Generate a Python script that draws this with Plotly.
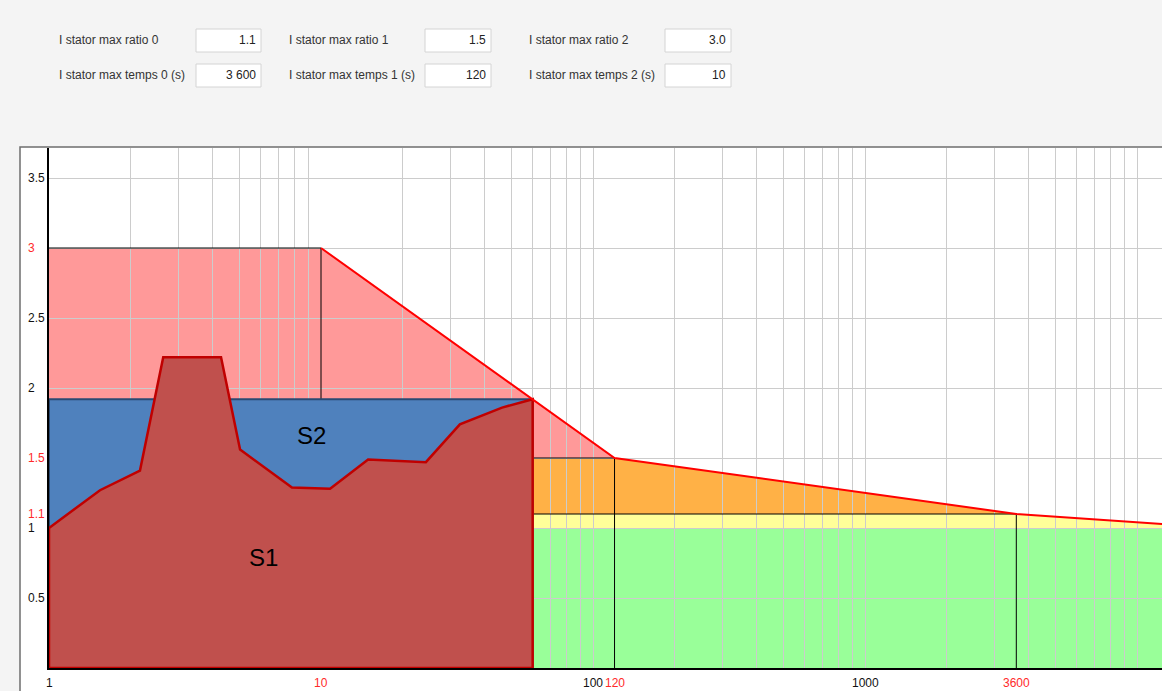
import numpy as np
import plotly.graph_objects as go

# Protection thresholds (current ratio and allowed duration)
ratio_labels = ["I stator max ratio 0", "I stator max ratio 1", "I stator max ratio 2"]
temps_labels = ["I stator max temps 0 (s)", "I stator max temps 1 (s)", "I stator max temps 2 (s)"]
ratios = [1.1, 1.5, 3.0]
temps = [3600, 120, 10]

# Trip envelope: time (s) vs current ratio
env_t = [10, 120, 3600, 20000]
env_i = [3.0, 1.5, 1.1, 1.0]

# Permanent (nominal) ratio
nominal_ratio = 1.0

# Load profile S1 and envelope box S2
s1_t = [1, 1.54, 2.16, 2.63, 4.29, 5.04, 7.82, 10.8, 14.9, 24.3, 32.4, 46.3, 60]
s1_i = [1.0, 1.27, 1.41, 2.22, 2.22, 1.56, 1.29, 1.28, 1.49, 1.47, 1.74, 1.86, 1.92]
s2_t_end = 60
s2_i = 1.92

# Axis labels
xtick_vals = [1, 10, 100, 120, 1000, 3600]
ytick_vals = [0.5, 1, 1.1, 1.5, 2, 2.5, 3, 3.5]

zone_colors = ["#FFFF99", "#FFB146", "#FF9999"]
nominal_color = "#99FF99"

W, H = 1162, 691
L, R, T, B = 49, 0, 148, 23
PW, PH = W - L - R, H - T - B


def px(x):
    return (x - L) / PW


def py(y):
    return (H - B - y) / PH


def path_of(points, close=True):
    s = "M " + " L ".join(f"{x},{y}" for x, y in points)
    return s + (" Z" if close else "")


fig = go.Figure()
shapes = []
annotations = []

# white chart panel on the grey page
shapes.append(dict(type="rect", xref="paper", yref="paper", layer="below",
                   x0=px(20), x1=px(1175), y0=py(147), y1=py(700),
                   fillcolor="white", line=dict(color="#6e6e6e", width=1.5)))

t_end = env_t[-1]

# threshold zones: highest ratio first, lower zones painted over it
order = sorted(range(len(ratios)), key=lambda k: ratios[k], reverse=True)
for k in order:
    r, t0 = ratios[k], temps[k]
    nxt = [tt for tt in temps if tt > t0]
    t1 = min(nxt) if nxt else t_end
    env_pts = [(t, i) for t, i in zip(env_t, env_i) if t0 <= t <= t1]
    pts = [(1, 0), (1, r), (t0, r)] + env_pts + [(t1, 0)]
    shapes.append(dict(type="path", xref="x", yref="y", layer="below",
                       path=path_of(pts), fillcolor=zone_colors[k], line=dict(width=0)))

# nominal band on top of the zones
shapes.append(dict(type="path", xref="x", yref="y", layer="below",
                   path=path_of([(1, 0), (1, nominal_ratio), (t_end, nominal_ratio), (t_end, 0)]),
                   fillcolor=nominal_color, line=dict(width=0)))

# zone borders
for r, t0 in zip(ratios, temps):
    shapes.append(dict(type="path", xref="x", yref="y", layer="between",
                       path=path_of([(1, r), (t0, r), (t0, 0)], close=False),
                       line=dict(color="black", width=1)))

# S2 box
fig.add_trace(go.Scatter(
    x=[1, 1, s2_t_end, s2_t_end, 1], y=[0, s2_i, s2_i, 0, 0],
    mode="lines", fill="toself", fillcolor="#4F81BD",
    line=dict(color="#2A4A73", width=2), hoverinfo="skip", showlegend=False))

# S1 profile
fig.add_trace(go.Scatter(
    x=[1] + s1_t + [s1_t[-1], 1], y=[0] + s1_i + [0, 0],
    mode="lines", fill="toself", fillcolor="#C0504D",
    line=dict(color="#C00000", width=2.5), hoverinfo="skip", showlegend=False))

# trip envelope
fig.add_trace(go.Scatter(
    x=env_t, y=env_i, mode="lines",
    line=dict(color="#FF0000", width=2), hoverinfo="skip", showlegend=False))

# region labels
annotations.append(dict(x=np.log10(6.12), y=0.79, xref="x", yref="y", text="S1",
                        showarrow=False, font=dict(size=24, color="black")))
annotations.append(dict(x=np.log10(9.19), y=1.66, xref="x", yref="y", text="S2",
                        showarrow=False, font=dict(size=24, color="black")))

RED = "#FF2A2A"

# y tick labels (left aligned)
for v in ytick_vals:
    annotations.append(dict(x=px(26), y=v, xref="paper", yref="y", text=f"{v:g}",
                            xanchor="left", yanchor="middle", showarrow=False,
                            font=dict(size=12, color=RED if v in ratios else "#111111")))

# x tick labels
for v in xtick_vals:
    annotations.append(dict(x=np.log10(v), y=0, xref="x", yref="paper", text=str(v),
                            xanchor="center", yanchor="top", yshift=-6, showarrow=False,
                            font=dict(size=12, color=RED if v in temps else "#111111")))

# parameter fields
col_label_x = [57, 287, 527]
col_box_x = [(196, 261), (425, 491), (665, 731)]
rows = [(40, 29, 52, ratio_labels, [f"{r:.1f}" for r in ratios]),
        (75, 64, 87, temps_labels, [f"{t:,}".replace(",", " ") for t in temps])]
for yc, yb0, yb1, labels, values in rows:
    for c in range(3):
        annotations.append(dict(x=px(col_label_x[c]), y=py(yc), xref="paper", yref="paper",
                                text=labels[c], xanchor="left", yanchor="middle", showarrow=False,
                                font=dict(size=12, color="#333333")))
        bx0, bx1 = col_box_x[c]
        shapes.append(dict(type="rect", xref="paper", yref="paper", layer="above",
                           x0=px(bx0), x1=px(bx1), y0=py(yb1), y1=py(yb0),
                           fillcolor="white", line=dict(color="#d4d4d4", width=1)))
        annotations.append(dict(x=px(bx1 - 3), y=py(yc), xref="paper", yref="paper",
                                text=values[c], xanchor="right", yanchor="middle", showarrow=False,
                                font=dict(size=12, color="#222222")))

# vertical grid at every digit of each decade (threshold times excluded)
grid_x = [d * 10 ** k for k in range(0, 5) for d in range(1, 10)]
grid_x = [g for g in grid_x if g not in temps and g > 1]

fig.update_layout(
    width=W, height=H,
    margin=dict(l=L, r=R, t=T, b=B, pad=0),
    paper_bgcolor="#f4f4f4", plot_bgcolor="white",
    font=dict(family="Liberation Sans, Arial, sans-serif"),
    shapes=shapes, annotations=annotations,
    showlegend=False,
    xaxis=dict(type="log", range=[0, PW / 272.0], tickmode="array",
               tickvals=grid_x, showticklabels=False, ticks="",
               showgrid=True, gridcolor="#cccccc", gridwidth=1, zeroline=False,
               showline=True, linecolor="black", linewidth=2, layer="below traces",
               fixedrange=True),
    yaxis=dict(range=[0, PH / 140.0], tick0=0, dtick=0.5, showticklabels=False, ticks="",
               showgrid=True, gridcolor="#cccccc", gridwidth=1, zeroline=False,
               showline=True, linecolor="black", linewidth=2, layer="below traces",
               fixedrange=True),
)

fig.write_html("out.html", config={"displayModeBar": False})
